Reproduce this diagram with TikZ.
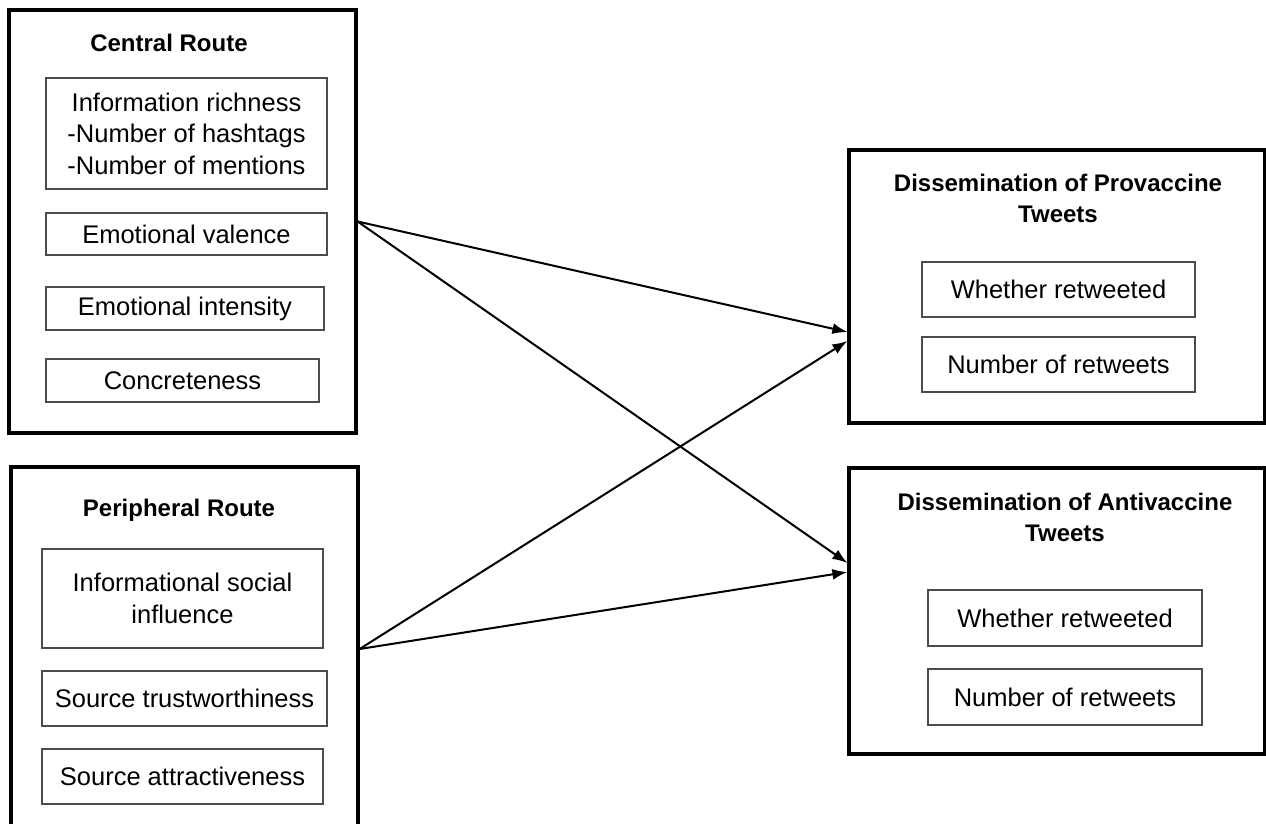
\documentclass[tikz,border=0pt]{standalone}
\usepackage{fontspec}
\setmainfont{Liberation Sans}
\usetikzlibrary{arrows.meta,calc}
\begin{document}
\begin{tikzpicture}[x=1pt,y=-1pt,
  outerbox/.style={draw=black, line width=3.2pt, inner sep=0pt},
  innerbox/.style={draw=black!70, line width=1.6pt, inner sep=0pt, align=center,
    font=\fontsize{25.5}{31.5}\selectfont},
  titletext/.style={inner sep=0pt, align=center, font=\fontsize{24}{31}\selectfont\bfseries},
  arr/.style={-{Latex[length=15pt,width=11pt]}, line width=2pt}]
\useasboundingbox (0,0) rectangle (1266,823);
\fill[white] (0,0) rectangle (1266,823);
% outer boxes
\node[outerbox, minimum width=347pt, minimum height=423pt] (central) at (182.5,221.5) {};
\node[outerbox, minimum width=347pt, minimum height=364pt] (periph) at (184.5,649) {};
\node[outerbox, minimum width=416pt, minimum height=273pt] (pro) at (1057,286.5) {};
\node[outerbox, minimum width=416pt, minimum height=286pt] (anti) at (1057,611) {};
% titles
\node[titletext] (ctitle) at (169,43) {Central Route};
\node[titletext] (ptitle) at (179,510) {Peripheral Route};
\node[titletext] (protitle) at (1058,198) {Dissemination of Provaccine\\Tweets};
\node[titletext] (antititle) at (1065,517) {Dissemination of Antivaccine\\Tweets};
% central inner boxes
\node[innerbox, minimum width=281pt, minimum height=111pt] (info) at (186.5,133.5) {Information richness\\-Number of hashtags\\-Number of mentions};
\node[innerbox, minimum width=281pt, minimum height=42pt] (valence) at (186.5,234) {Emotional valence};
\node[innerbox, minimum width=278pt, minimum height=43pt] (intensity) at (185,308.5) {Emotional intensity};
\node[innerbox, minimum width=273pt, minimum height=43pt] (concrete) at (182.5,380.5) {Concreteness};
% peripheral inner boxes
\node[innerbox, minimum width=281pt, minimum height=99pt] (social) at (182.5,598.5) {Informational social\\influence};
\node[innerbox, minimum width=285pt, minimum height=55pt] (trust) at (184.5,698.5) {Source trustworthiness};
\node[innerbox, minimum width=281pt, minimum height=55pt] (attract) at (182.5,776.5) {Source attractiveness};
% outcome inner boxes
\node[innerbox, minimum width=273pt, minimum height=55pt] (prowhether) at (1058.5,289.5) {Whether retweeted};
\node[innerbox, minimum width=273pt, minimum height=55pt] (pronumber) at (1058.5,364.5) {Number of retweets};
\node[innerbox, minimum width=274pt, minimum height=56pt] (antiwhether) at (1065,618) {Whether retweeted};
\node[innerbox, minimum width=274pt, minimum height=56pt] (antinumber) at (1065,697) {Number of retweets};
% arrow end points
\coordinate (proinA) at ($(pro.west)+(0,45.5)$);
\coordinate (proinB) at ($(pro.west)+(0,54.5)$);
\coordinate (antiinA) at ($(anti.west)+(0,-48)$);
\coordinate (antiinB) at ($(anti.west)+(0,-39)$);
% arrows
\draw[arr] (central.east) -- (proinA);
\draw[arr] (periph.east) -- (proinB);
\draw[arr] (central.east) -- (antiinA);
\draw[arr] (periph.east) -- (antiinB);
\end{tikzpicture}
\end{document}
